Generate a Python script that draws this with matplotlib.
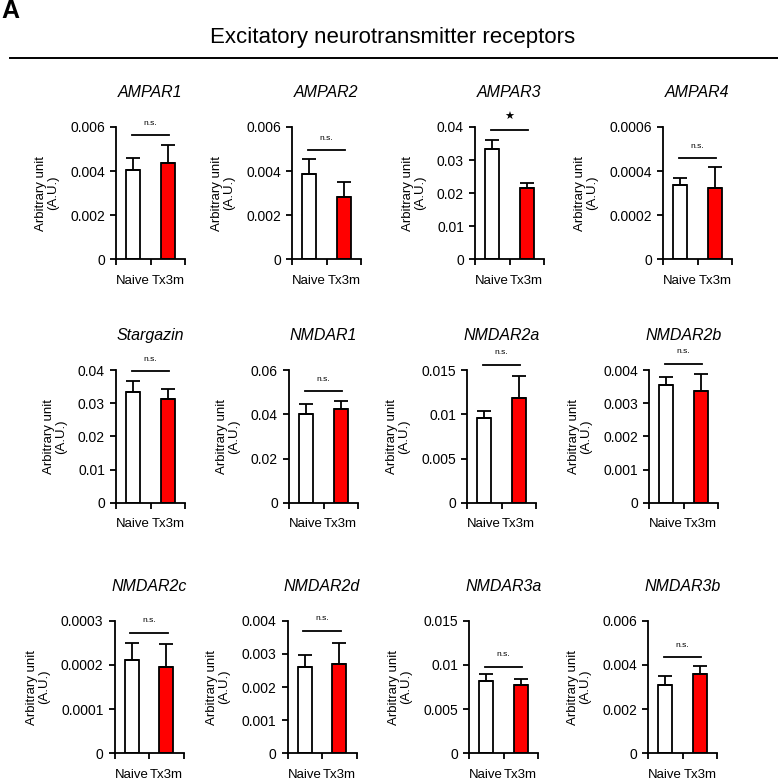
import numpy as np
import matplotlib.pyplot as plt
from matplotlib.lines import Line2D
import matplotlib.transforms as mtransforms

plt.rcParams['font.family'] = ['Liberation Sans', 'DejaVu Sans']

# === Data ===
genes = ["AMPAR1", "AMPAR2", "AMPAR3", "AMPAR4",
         "Stargazin", "NMDAR1", "NMDAR2a", "NMDAR2b",
         "NMDAR2c", "NMDAR2d", "NMDAR3a", "NMDAR3b"]
groups = ["Naive", "Tx3m"]
naive_mean = [0.00405, 0.00386, 0.0335, 0.000338,
              0.0333, 0.0402, 0.0096, 0.00354,
              0.000212, 0.0026, 0.00823, 0.00308]
naive_err = [0.00056, 0.00068, 0.0025, 0.00003,
             0.0034, 0.0047, 0.0008, 0.00025,
             0.000038, 0.00037, 0.00073, 0.00042]
tx_mean = [0.00438, 0.00282, 0.0215, 0.000323,
           0.0313, 0.0426, 0.0118, 0.00336,
           0.000195, 0.0027, 0.00771, 0.0036]
tx_err = [0.00079, 0.0007, 0.0015, 0.000097,
          0.0031, 0.0033, 0.0025, 0.00053,
          0.000052, 0.00063, 0.00075, 0.00037]
y_ticks = [[0, 0.002, 0.004, 0.006], [0, 0.002, 0.004, 0.006],
           [0, 0.01, 0.02, 0.03, 0.04], [0, 0.0002, 0.0004, 0.0006],
           [0, 0.01, 0.02, 0.03, 0.04], [0, 0.02, 0.04, 0.06],
           [0, 0.005, 0.01, 0.015], [0, 0.001, 0.002, 0.003, 0.004],
           [0, 0.0001, 0.0002, 0.0003], [0, 0.001, 0.002, 0.003, 0.004],
           [0, 0.005, 0.01, 0.015], [0, 0.002, 0.004, 0.006]]
sig_text = ["n.s.", "n.s.", "★", "n.s.",
            "n.s.", "n.s.", "n.s.", "n.s.",
            "n.s.", "n.s.", "n.s.", "n.s."]

# === Layout (pixels) ===
W, H = 778, 781
ax_left = [116, 292, 475, 663,
           116, 289, 467, 649,
           114.5, 287.5, 469, 648]
row_bottom = [259.5, 502.7, 753.3]
ax_w, ax_h = 69, 132.5
bracket_y = [0.94, 0.826, 0.977, 0.764,
             0.992, 0.84, 1.04, 1.05,
             0.911, 0.924, 0.655, 0.726]

lw = 1.3
fig = plt.figure(figsize=(W / 100, H / 100), dpi=100)

for i, gene in enumerate(genes):
    r = i // 4
    ax = fig.add_axes([ax_left[i] / W, 1 - row_bottom[r] / H, ax_w / W, ax_h / H])
    xs = [0.5, 1.5]
    ax.bar(xs, [naive_mean[i], tx_mean[i]], width=0.42,
           color=["white", "#ff0000"], edgecolor="black", linewidth=lw, zorder=2)
    ax.errorbar(xs, [naive_mean[i], tx_mean[i]],
                yerr=[[0, 0], [naive_err[i], tx_err[i]]],
                fmt="none", ecolor="black", elinewidth=lw, capsize=5, capthick=lw, zorder=3)

    ax.set_xlim(0, 2)
    ax.set_ylim(0, y_ticks[i][-1])
    ax.set_yticks(y_ticks[i])
    ax.set_yticklabels([f"{t:g}" for t in y_ticks[i]])
    ax.set_xticks([0, 1, 2])
    ax.set_xticklabels([])
    ax.set_xticks(xs, minor=True)
    ax.set_xticklabels(groups, minor=True)
    ax.tick_params(axis="x", which="minor", length=0, pad=11, labelsize=9.5)
    ax.tick_params(axis="both", which="major", length=4, width=lw, labelsize=10, pad=4)
    for s in ["top", "right"]:
        ax.spines[s].set_visible(False)
    for s in ["left", "bottom"]:
        ax.spines[s].set_linewidth(lw)

    ax.set_title(gene, style="italic", fontsize=11.5, pad=21.6)
    ax.set_ylabel("Arbitrary unit\n(A.U.)", fontsize=9.5, linespacing=1.0, labelpad=8)

    # significance bracket
    trans = mtransforms.blended_transform_factory(ax.transData, ax.transAxes)
    ax.plot([0.45, 1.55], [bracket_y[i], bracket_y[i]], color="black", lw=lw,
            transform=trans, clip_on=False)
    if sig_text[i] == "★":
        ax.annotate(sig_text[i], (1.0, bracket_y[i]), xycoords=trans,
                    xytext=(0, 9.5), textcoords="offset points",
                    ha="center", va="center", fontsize=8, family="DejaVu Sans")
    else:
        ax.annotate(sig_text[i], (1.0, bracket_y[i]), xycoords=trans,
                    xytext=(0, 8.6), textcoords="offset points",
                    ha="center", va="center", fontsize=6)

# header
fig.text(393 / W, 1 - 43 / H, "Excitatory neurotransmitter receptors",
         ha="center", va="baseline", fontsize=16)
fig.text(1 / W, 1 - 18 / H, "A", ha="left", va="baseline", fontsize=18, fontweight="bold")
fig.add_artist(Line2D([10 / W, 1.0], [1 - 58 / H, 1 - 58 / H], color="black", lw=1.4))

fig.savefig("out.png", dpi=100)
